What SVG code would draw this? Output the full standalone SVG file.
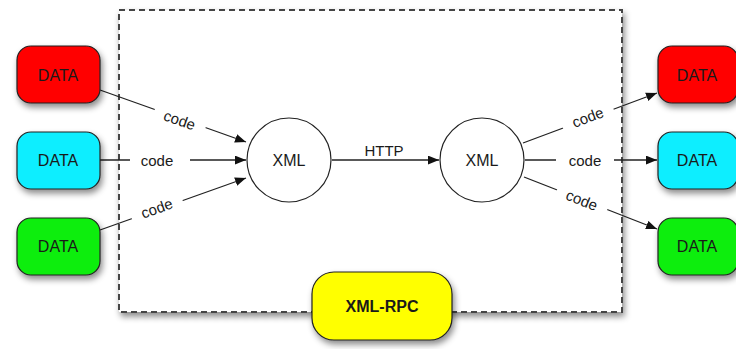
<svg xmlns="http://www.w3.org/2000/svg" width="736" height="349" viewBox="0 0 736 349">
<defs>
<filter id="sh" x="-20%" y="-20%" width="150%" height="160%">
<feDropShadow dx="2" dy="4" stdDeviation="3" flood-color="#000" flood-opacity="0.45"/>
</filter>
<marker id="ah" viewBox="0 0 10 8" refX="10" refY="4" markerWidth="11" markerHeight="9" markerUnits="userSpaceOnUse" orient="auto">
<path d="M0,0 L10,4 L0,8 Z" fill="#111"/>
</marker>
<style>
text{font-family:"Liberation Sans",Arial,sans-serif;fill:#1a1a1a;text-anchor:middle;dominant-baseline:central}
.box{stroke:#222;stroke-width:1.2;filter:url(#sh)}
.lbl{font-size:16px}
.code{font-size:15px}
.ln{stroke:#222;stroke-width:1.3;fill:none}
.bg{fill:#fff}
</style>
</defs>
<rect width="736" height="349" fill="#fff"/>
<g id="frame">
<rect x="119" y="10" width="503" height="302" fill="#fff" stroke="#444" stroke-width="2" stroke-dasharray="6 4" filter="url(#sh)"/>
</g>
<g id="connectors">
<line class="ln" x1="100" y1="90" x2="246" y2="142" marker-end="url(#ah)"/>
<line class="ln" x1="100" y1="160" x2="246" y2="160" marker-end="url(#ah)"/>
<line class="ln" x1="100" y1="230" x2="246" y2="178" marker-end="url(#ah)"/>
<line class="ln" x1="332" y1="160" x2="439" y2="160" marker-end="url(#ah)"/>
<line class="ln" x1="523" y1="143" x2="657" y2="93" marker-end="url(#ah)"/>
<line class="ln" x1="525" y1="160" x2="657" y2="160" marker-end="url(#ah)"/>
<line class="ln" x1="524" y1="177" x2="657" y2="229" marker-end="url(#ah)"/>
<g transform="translate(180,119) rotate(19.5)"><rect class="bg" x="-27" y="-9" width="54" height="18"/><text class="code" x="0" y="1">code</text></g>
<g transform="translate(157,160)"><rect class="bg" x="-27" y="-9" width="60" height="18"/><text class="code" x="0" y="0">code</text></g>
<g transform="translate(157,209) rotate(-19.8)"><rect class="bg" x="-27" y="-9" width="54" height="18"/><text class="code" x="0" y="-1">code</text></g>
<text class="code" x="384" y="150">HTTP</text>
<g transform="translate(588,118) rotate(-20.8)"><rect class="bg" x="-27" y="-9" width="54" height="18"/><text class="code" x="0" y="-1">code</text></g>
<g transform="translate(585,160)"><rect class="bg" x="-29" y="-9" width="58" height="18"/><text class="code" x="0" y="0">code</text></g>
<g transform="translate(582,200) rotate(21.9)"><rect class="bg" x="-27" y="-9" width="54" height="18"/><text class="code" x="0" y="0">code</text></g>
</g>
<g id="data-in-red"><rect class="box" x="17" y="46" width="83" height="57" rx="14" fill="#ff0000"/><text class="lbl" x="58" y="75">DATA</text></g>
<g id="data-in-cyan"><rect class="box" x="17" y="132" width="83" height="57" rx="14" fill="#11eeff"/><text class="lbl" x="58" y="160">DATA</text></g>
<g id="data-in-green"><rect class="box" x="17" y="218" width="83" height="57" rx="14" fill="#11ee11"/><text class="lbl" x="58" y="246">DATA</text></g>
<g id="xml-left"><circle cx="289" cy="160" r="42" fill="#fff" stroke="#222" stroke-width="1.2"/><text class="lbl" x="289" y="160">XML</text></g>
<g id="xml-right"><circle cx="482" cy="160" r="42" fill="#fff" stroke="#222" stroke-width="1.2"/><text class="lbl" x="482" y="160">XML</text></g>
<g id="data-out-red"><rect class="box" x="658" y="46" width="80" height="57" rx="14" fill="#ff0000"/><text class="lbl" x="697" y="75">DATA</text></g>
<g id="data-out-cyan"><rect class="box" x="658" y="132" width="80" height="57" rx="14" fill="#11eeff"/><text class="lbl" x="697" y="160">DATA</text></g>
<g id="data-out-green"><rect class="box" x="658" y="218" width="80" height="57" rx="14" fill="#11ee11"/><text class="lbl" x="697" y="246">DATA</text></g>
<g id="xml-rpc"><rect class="box" x="312" y="272" width="140" height="68" rx="22" fill="#ffff00"/><text class="lbl" x="382" y="306" style="font-weight:bold">XML-RPC</text></g>
</svg>
